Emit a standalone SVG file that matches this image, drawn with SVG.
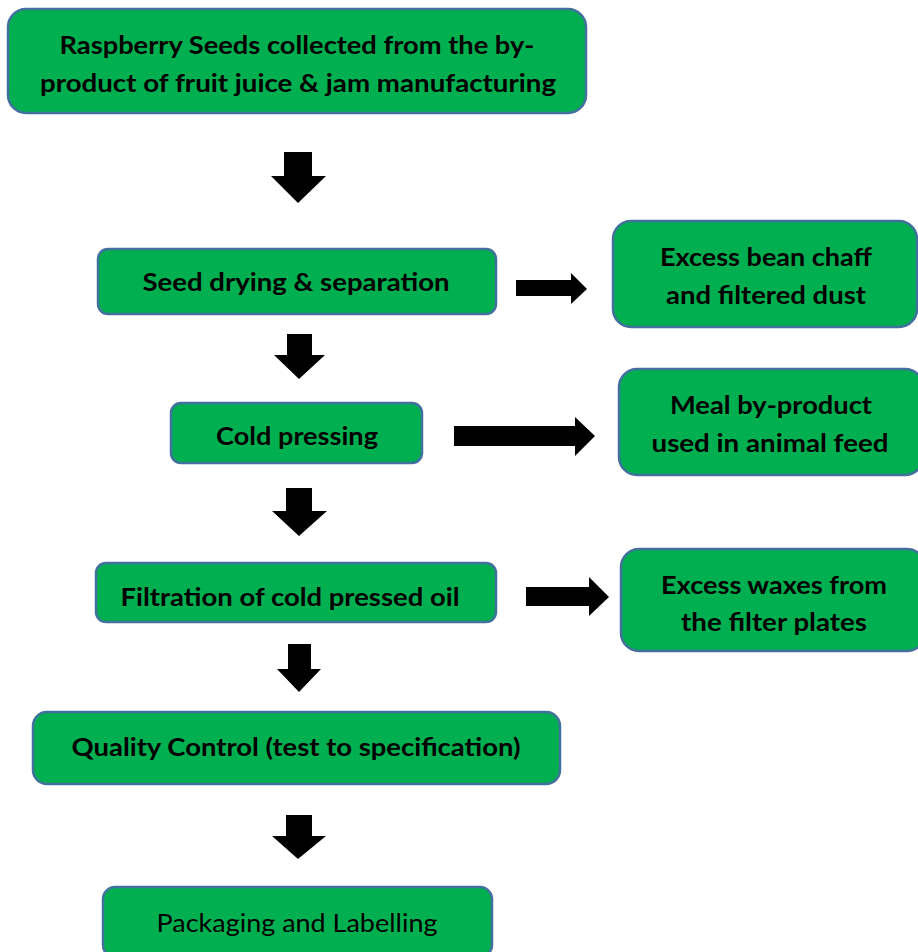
<svg xmlns="http://www.w3.org/2000/svg" width="918" height="952" viewBox="0 0 918 952">
<style>
.box{fill:#00b050;stroke:#41719c;stroke-width:2.5}
.t{font-family:Lato,"Open Sans","Liberation Sans",sans-serif;font-size:25px;font-weight:bold;fill:#000;text-anchor:middle}
.n{font-weight:normal}
.arr{fill:#000}
</style>
<rect width="918" height="952" fill="#fff"/>
<g id="n1"><rect class="box" x="8" y="9" width="578" height="104" rx="18"/>
<text class="t" x="297" y="54" textLength="475" lengthAdjust="spacingAndGlyphs">Raspberry Seeds collected from the by-</text>
<text class="t" x="298" y="92" textLength="516" lengthAdjust="spacingAndGlyphs">product of fruit juice &amp; jam manufacturing</text></g>
<g id="n2"><rect class="box" x="98" y="249" width="398" height="65" rx="10"/>
<text class="t" x="296" y="291" textLength="307" lengthAdjust="spacingAndGlyphs">Seed drying &amp; separation</text></g>
<g id="s1"><rect class="box" x="613" y="221" width="304" height="106" rx="18"/>
<text class="t" x="766" y="266" textLength="212" lengthAdjust="spacingAndGlyphs">Excess bean chaff</text>
<text class="t" x="766" y="304" textLength="200" lengthAdjust="spacingAndGlyphs">and filtered dust</text></g>
<g id="n3"><rect class="box" x="171" y="403" width="251" height="60" rx="10"/>
<text class="t" x="297" y="445" textLength="162" lengthAdjust="spacingAndGlyphs">Cold pressing</text></g>
<g id="s2"><rect class="box" x="619" y="369" width="304" height="106" rx="18"/>
<text class="t" x="771" y="414" textLength="202" lengthAdjust="spacingAndGlyphs">Meal by-product</text>
<text class="t" x="770" y="452" textLength="237" lengthAdjust="spacingAndGlyphs">used in animal feed</text></g>
<g id="n4"><rect class="box" x="96" y="563" width="400" height="59" rx="10"/>
<text class="t" x="290" y="606" textLength="339" lengthAdjust="spacingAndGlyphs">Filtration of cold pressed oil</text></g>
<g id="s3"><rect class="box" x="621" y="549" width="304" height="102" rx="18"/>
<text class="t" x="774" y="594" textLength="226" lengthAdjust="spacingAndGlyphs">Excess waxes from</text>
<text class="t" x="774" y="631" textLength="186" lengthAdjust="spacingAndGlyphs">the filter plates</text></g>
<g id="n5"><rect class="box" x="33" y="712" width="527" height="72" rx="14"/>
<text class="t" x="296" y="756" textLength="449" lengthAdjust="spacingAndGlyphs">Quality Control (test to specification)</text></g>
<g id="n6"><rect class="box" x="103" y="887" width="389" height="70" rx="12"/>
<text class="t n" x="297" y="932" textLength="281" lengthAdjust="spacingAndGlyphs">Packaging and Labelling</text></g>
<g id="connectors">
<polygon class="arr" points="284,152 312,152 312,176 326,176 298,203 271,176 284,176"/>
<polygon class="arr" points="287,334 312,334 312,355 325,355 299,379 274,355 287,355"/>
<polygon class="arr" points="286,488 312,488 312,511 327,511 299,536 272,511 286,511"/>
<polygon class="arr" points="288,644 311,644 311,669 321,669 299,692 277,669 288,669"/>
<polygon class="arr" points="286,815 312,815 312,836 326,836 298,859 272,836 286,836"/>
<polygon class="arr" points="516,280 571,280 571,273 587,289 571,304 571,296 516,296"/>
<polygon class="arr" points="454,426 575,426 575,417 595,436 575,456 575,446 454,446"/>
<polygon class="arr" points="526,587 589,587 589,577 609,597 589,616 589,606 526,606"/>
</g>
</svg>
